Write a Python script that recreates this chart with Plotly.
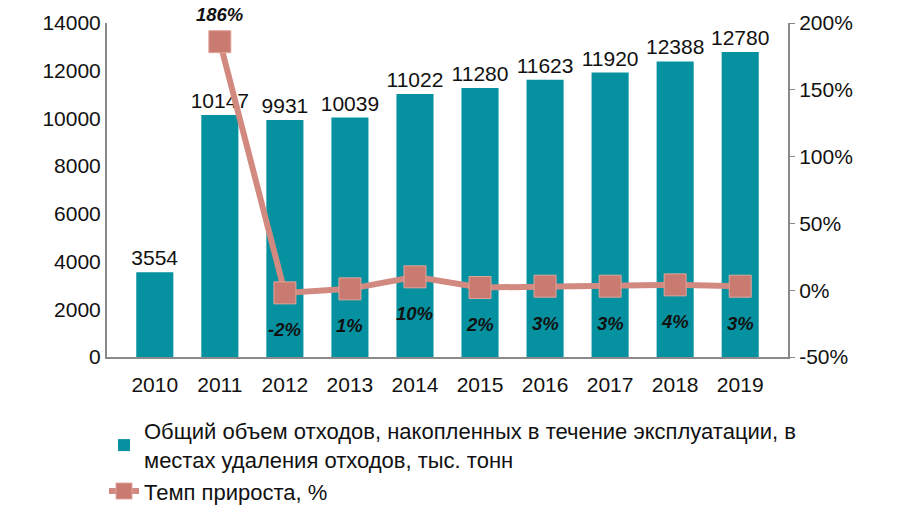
import plotly.graph_objects as go

years = ["2010", "2011", "2012", "2013", "2014", "2015", "2016", "2017", "2018", "2019"]
volume = [3554, 10147, 9931, 10039, 11022, 11280, 11623, 11920, 12388, 12780]
growth = [None, 186, -2, 1, 10, 2, 3, 3, 4, 3]
growth_labels = ["", "186%", "-2%", "1%", "10%", "2%", "3%", "3%", "4%", "3%"]
y2_ticks = [-50, 0, 50, 100, 150, 200]
y2_ticktext = ["-50%", "0%", "50%", "100%", "150%", "200%"]

bar_name = "Общий объем отходов, накопленных в течение эксплуатации, в<br>местах удаления отходов, тыс. тонн"
line_name = "Темп прироста, %"

font_family = "Arial, Liberation Sans, sans-serif"

fig = go.Figure()
fig.add_trace(go.Bar(
    x=years, y=volume, name=bar_name,
    marker=dict(color="#0591a0", line=dict(width=0)),
    text=[str(v) for v in volume], textposition="outside", constraintext="none",
    textfont=dict(size=21, color="#111111", family=font_family),
    cliponaxis=False,
))
fig.add_trace(go.Scatter(
    x=years, y=growth, name=line_name, yaxis="y2",
    mode="lines+markers",
    line=dict(color="#d28a80", width=6),
    marker=dict(symbol="square", size=22, color="#c97b71", line=dict(color="#e2a49b", width=1)),
    cliponaxis=False,
    connectgaps=False,
))

# category axis: annotation x given as the category index
for i, (g, lab) in enumerate(zip(growth, growth_labels)):
    if g is None:
        continue
    fig.add_annotation(
        x=i, y=g, xref="x", yref="y2", text="<b><i>" + lab + "</i></b>",
        showarrow=False, yshift=27 if g > 50 else -37,
        font=dict(size=18.5, color="#111111", family=font_family),
    )

fig.update_layout(
    width=902, height=514,
    margin=dict(l=107, r=114, t=23, b=157, autoexpand=False),
    plot_bgcolor="white", paper_bgcolor="white",
    font=dict(family=font_family, size=21, color="#111111"),
    bargap=0.43,
    showlegend=True,
    legend=dict(x=104 / 902, xref="container", y=1 - 410 / 514, yref="container",
                xanchor="left", yanchor="top",
                font=dict(size=22, family=font_family), tracegroupgap=12,
                itemwidth=30),
    xaxis=dict(type="category", showline=True, linecolor="#8a8a8a", linewidth=2, ticks="",
               tickfont=dict(size=21), showgrid=False, ticklabelstandoff=8),
    yaxis=dict(range=[0, 14000], dtick=2000, tickformat="d", showline=True, linecolor="#8a8a8a",
               linewidth=2, showgrid=False, ticks="", tickfont=dict(size=21), zeroline=False),
    yaxis2=dict(range=[-50, 200], tickvals=y2_ticks, ticktext=y2_ticktext, overlaying="y",
                side="right", showline=True, linecolor="#8a8a8a", linewidth=2, ticks="outside",
                ticklen=5, tickcolor="#8a8a8a", showgrid=False, zeroline=False,
                tickfont=dict(size=21)),
)

fig.write_html("out.html")
